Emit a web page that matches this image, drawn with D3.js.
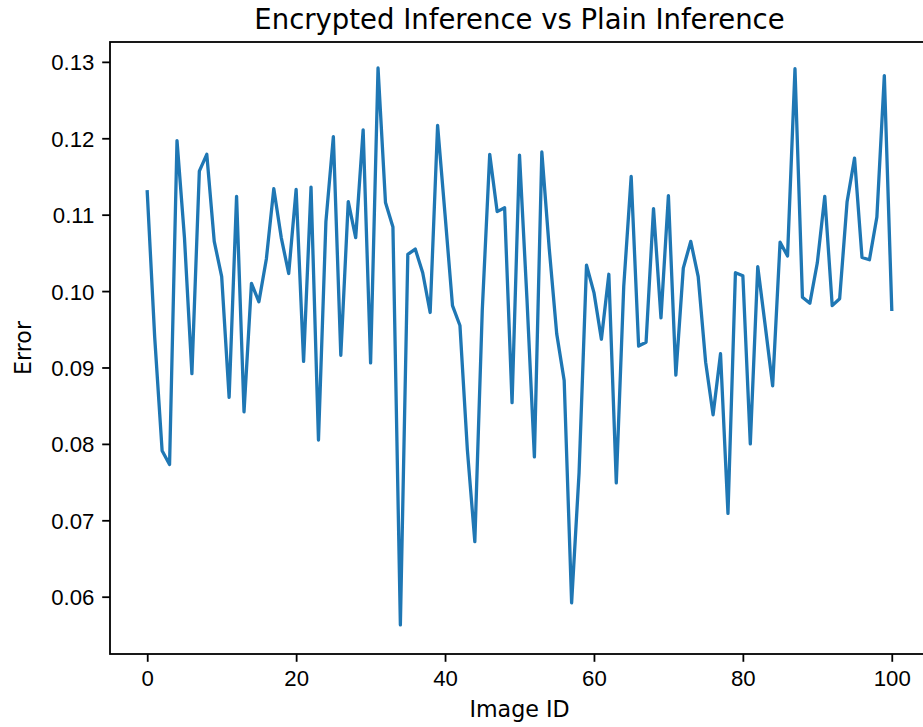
<!DOCTYPE html>
<html>
<head>
<meta charset="utf-8">
<script src="https://cdn.jsdelivr.net/npm/d3@7"></script>
<style>
  body { margin: 0; background: #fff; }
</style>
</head>
<body>
<div id="chart"></div>
<script>
// error per image id
const imageIds = d3.range(0, 101);
const errors = [
    0.1130, 0.0940, 0.0791, 0.0773, 0.1197, 0.1070, 0.0892, 0.1157, 0.1179, 0.1065,
    0.1019, 0.0861, 0.1124, 0.0842, 0.1010, 0.0986, 0.1042, 0.1134, 0.1070, 0.1023,
    0.1133, 0.0908, 0.1136, 0.0805, 0.1091, 0.1202, 0.0916, 0.1117, 0.1070, 0.1211,
    0.0906, 0.1292, 0.1116, 0.1084, 0.0563, 0.1048, 0.1055, 0.1024, 0.0972, 0.1217,
    0.1100, 0.0981, 0.0955, 0.0792, 0.0672, 0.0975, 0.1179, 0.1104, 0.1109, 0.0854,
    0.1178, 0.0990, 0.0783, 0.1182, 0.1055, 0.0944, 0.0883, 0.0592, 0.0762, 0.1034,
    0.0998, 0.0937, 0.1022, 0.0749, 0.1006, 0.1150, 0.0928, 0.0933, 0.1108, 0.0965,
    0.1125, 0.0890, 0.1030, 0.1065, 0.1019, 0.0907, 0.0838, 0.0918, 0.0709, 0.1024,
    0.1020, 0.0800, 0.1032, 0.0955, 0.0876, 0.1064, 0.1046, 0.1291, 0.0992, 0.0984,
    0.1037, 0.1124, 0.0981, 0.0990, 0.1117, 0.1174, 0.1044, 0.1041, 0.1097, 0.1282,
    0.0976
];
const xTicks = [0, 20, 40, 60, 80, 100];
const yTicks = [0.06, 0.07, 0.08, 0.09, 0.10, 0.11, 0.12, 0.13];

const width = 923, height = 727;
const margin = {top: 42, right: -6, bottom: 73, left: 110};
const tickFont = 22.2, titleFont = 27.5;

const x = d3.scaleLinear()
    .domain([-5, 105])
    .range([margin.left, width - margin.right]);
const y = d3.scaleLinear()
    .domain([0.0525, 0.1326])
    .range([height - margin.bottom, margin.top]);

const svg = d3.select("#chart").append("svg")
    .attr("width", width)
    .attr("height", height)
    .attr("viewBox", [0, 0, width, height])
    .style("font-family", "'DejaVu Sans', sans-serif");

const line = d3.line()
    .x((d, i) => x(imageIds[i]))
    .y(d => y(d));

svg.append("path")
    .datum(errors)
    .attr("fill", "none")
    .attr("stroke", "#1f77b4")
    .attr("stroke-width", 3.3)
    .attr("stroke-linejoin", "round")
    .attr("stroke-linecap", "square")
    .attr("d", line);

// axes
const xAxis = svg.append("g")
    .attr("transform", `translate(0,${height - margin.bottom})`)
    .call(d3.axisBottom(x).tickValues(xTicks).tickFormat(d3.format("d"))
        .tickSizeInner(7.8).tickSizeOuter(0).tickPadding(7.8));
const yAxis = svg.append("g")
    .attr("transform", `translate(${margin.left},0)`)
    .call(d3.axisLeft(y).tickValues(yTicks).tickFormat(d3.format(".2f"))
        .tickSizeInner(7.8).tickSizeOuter(0).tickPadding(7.8));

[xAxis, yAxis].forEach(g => {
    g.select(".domain").remove();
    g.selectAll(".tick line").attr("stroke", "#000").attr("stroke-width", 1.8);
    g.selectAll(".tick text")
        .attr("fill", "#000")
        .style("font-size", tickFont + "px");
});
xAxis.selectAll(".tick text").attr("dy", "0.76em");
yAxis.selectAll(".tick text").attr("dy", "0.36em");

// frame
svg.append("rect")
    .attr("x", margin.left)
    .attr("y", margin.top)
    .attr("width", width - margin.right - margin.left)
    .attr("height", height - margin.bottom - margin.top)
    .attr("fill", "none")
    .attr("stroke", "#000")
    .attr("stroke-width", 1.8);

svg.append("text")
    .attr("x", (margin.left + width - margin.right) / 2)
    .attr("y", 29)
    .attr("text-anchor", "middle")
    .style("font-size", titleFont + "px")
    .text("Encrypted Inference vs Plain Inference");

svg.append("text")
    .attr("x", (margin.left + width - margin.right) / 2)
    .attr("y", 717)
    .attr("text-anchor", "middle")
    .style("font-size", tickFont + "px")
    .text("Image ID");

svg.append("text")
    .attr("transform", `translate(31,${(margin.top + height - margin.bottom) / 2}) rotate(-90)`)
    .attr("text-anchor", "middle")
    .style("font-size", tickFont + "px")
    .text("Error");
</script>
</body>
</html>
